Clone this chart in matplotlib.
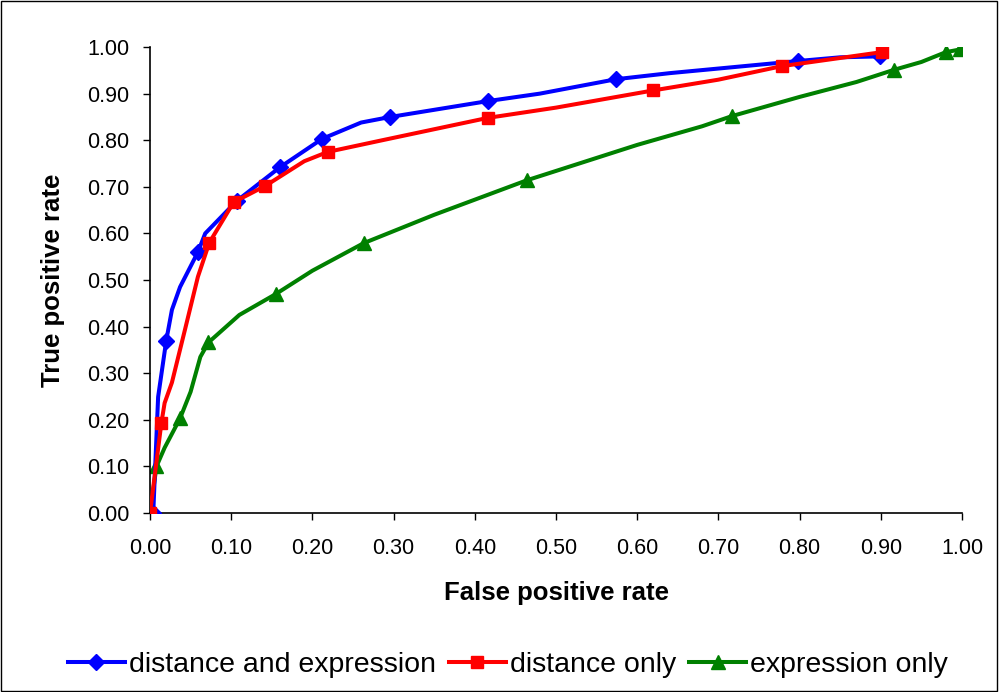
import matplotlib.pyplot as plt
from matplotlib.patches import Rectangle

plt.rcParams['font.family'] = ['Liberation Sans', 'DejaVu Sans']

# curve points (markers only at the indices listed)
blue_x = [0.004, 0.010, 0.020, 0.027, 0.037, 0.059, 0.068, 0.107, 0.160, 0.212, 0.260, 0.296, 0.416, 0.480, 0.574, 0.640, 0.798, 0.850, 0.899]
blue_y = [0.000, 0.249, 0.370, 0.436, 0.485, 0.560, 0.600, 0.670, 0.742, 0.803, 0.838, 0.850, 0.884, 0.900, 0.931, 0.944, 0.970, 0.978, 0.980]
blue_marks = [0, 2, 5, 7, 8, 9, 11, 12, 14, 16, 18]

red_x = [0.000, 0.014, 0.018, 0.027, 0.043, 0.059, 0.073, 0.103, 0.142, 0.190, 0.219, 0.286, 0.416, 0.500, 0.620, 0.700, 0.778, 0.901]
red_y = [0.000, 0.193, 0.236, 0.280, 0.393, 0.507, 0.580, 0.667, 0.702, 0.755, 0.775, 0.800, 0.848, 0.870, 0.907, 0.930, 0.959, 0.989]
red_marks = [0, 1, 6, 7, 8, 10, 12, 14, 16, 17]

green_x = [0.000, 0.008, 0.018, 0.037, 0.050, 0.062, 0.072, 0.110, 0.155, 0.200, 0.263, 0.350, 0.464, 0.600, 0.680, 0.717, 0.800, 0.870, 0.916, 0.950, 0.980, 0.998]
green_y = [0.000, 0.100, 0.140, 0.203, 0.260, 0.335, 0.366, 0.425, 0.470, 0.520, 0.579, 0.640, 0.714, 0.790, 0.830, 0.852, 0.893, 0.925, 0.951, 0.968, 0.989, 0.995]
green_marks = [0, 1, 3, 6, 8, 10, 12, 15, 18, 20, 21]

ticks = [i / 10 for i in range(11)]
tick_labels = ['%.2f' % t for t in ticks]

fig = plt.figure(figsize=(10, 6.92), dpi=100)
ax = fig.add_axes([0.15, 0.2587, 0.812, 0.6733])

ax.plot(blue_x, blue_y, color='#0000ff', lw=2.9, marker='D', ms=8,
        markevery=blue_marks, label='distance and expression', zorder=3,
        solid_joinstyle='round')
ax.plot(red_x, red_y, color='#ff0000', lw=2.9, marker='s', ms=9,
        markevery=red_marks, label='distance only', zorder=4,
        solid_joinstyle='round')
ax.plot(green_x, green_y, color='#008000', lw=2.9, marker='^', ms=10,
        markevery=green_marks, label='expression only', zorder=2,
        solid_joinstyle='round')

ax.set_xlim(0, 1)
ax.set_ylim(0, 1)
ax.set_xticks(ticks)
ax.set_xticklabels(tick_labels)
ax.set_yticks(ticks)
ax.set_yticklabels(tick_labels)
ax.tick_params(labelsize=15.5, length=5, direction='out', width=1)
ax.tick_params(axis='x', pad=13)
ax.tick_params(axis='y', pad=10)
ax.spines['top'].set_visible(False)
ax.spines['right'].set_visible(False)
ax.set_xlabel('False positive rate', fontsize=18.5, fontweight='bold', labelpad=16)
ax.set_ylabel('True positive rate', fontsize=18.5, fontweight='bold', labelpad=16)
for sp in ax.spines.values():
    sp.set_linewidth(1.2)

fig.legend(loc='center', bbox_to_anchor=(0.508, 0.039), ncol=3, frameon=False,
           fontsize=20.5, handlelength=2.0, handletextpad=0.15, columnspacing=0.45)

fig.patches.append(Rectangle((0.001, 0.002), 0.996, 0.996, transform=fig.transFigure,
                             fill=False, edgecolor='black', lw=1))

fig.savefig('out.png', dpi=100)
